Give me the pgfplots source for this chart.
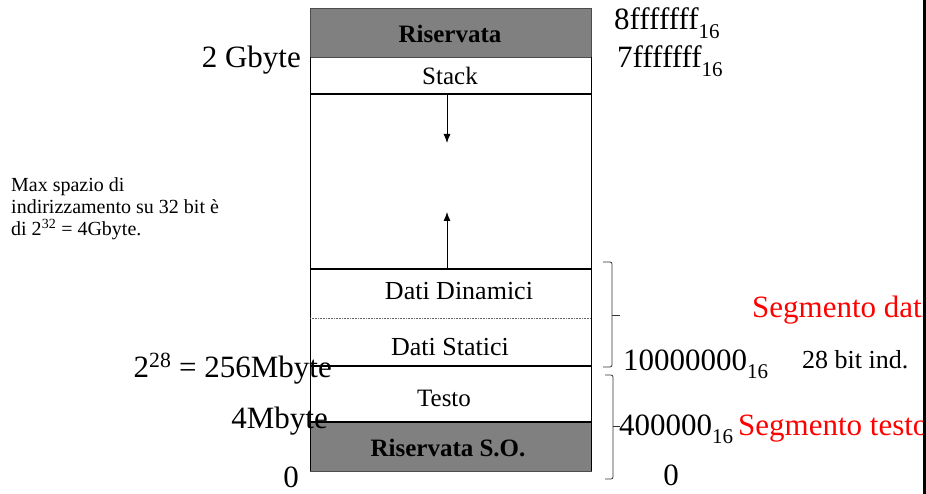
\documentclass[border=0pt]{standalone}
\usepackage{pgfplots}
\pgfplotsset{compat=1.18}
\usepackage{fontspec}
\setmainfont{Liberation Serif}
\usetikzlibrary{arrows.meta}

\newcommand{\fs}[1]{\fontsize{#1}{#1}\selectfont}
\newcommand{\hexsub}[1]{\raisebox{-0.28em}{\fs{21}#1}}

\begin{document}
\begin{tikzpicture}
\begin{axis}[
    name=ax,
    hide axis,
    scale only axis,
    width=926pt, height=494pt,
    xmin=0, xmax=926, ymin=0, ymax=494,
    y dir=reverse,
    clip=false,
]
% memory regions (pixel coordinates of the reference)
\addplot[fill=gray, draw=black!70, line width=0.8pt] coordinates {(310,8) (591,8) (591,57) (310,57)} --cycle;
\addplot[fill=gray, draw=black!70, line width=0.8pt] coordinates {(310,422) (591,422) (591,471) (310,471)} --cycle;
\addplot[black, line width=0.8pt] coordinates {(310,57) (310,471)};
\addplot[black, line width=0.8pt] coordinates {(591,57) (591,471)};
\addplot[black, line width=2.4pt] coordinates {(310,94) (591,94)};
\addplot[black, line width=2.4pt] coordinates {(310,269) (591,269)};
\addplot[black, line width=2.4pt] coordinates {(310,366) (591,366)};
\addplot[black, line width=2.4pt] coordinates {(310,422) (591,422)};
\addplot[black!60, line width=0.6pt, densely dotted] coordinates {(310,318) (591,318)};

% stack / heap growth
\addplot[black, line width=0.9pt, -{Latex[length=9pt,width=7pt]}] coordinates {(447,94) (447,143)};
\addplot[black, line width=0.9pt, -{Latex[length=9pt,width=7pt]}] coordinates {(447,269) (447,212)};

% braces (square-ish, as in the reference)
\addplot[black!80, line width=0.8pt, rounded corners=2pt] coordinates {(603,262) (612,262) (612,367) (603,367)};
\addplot[black!80, line width=0.8pt] coordinates {(612,315) (620,315)};
\addplot[black!80, line width=0.8pt, rounded corners=2pt] coordinates {(605,375) (613,375) (613,479) (605,479)};
\addplot[black!80, line width=0.8pt] coordinates {(613,426) (620,426)};

% labels inside the boxes
\node[anchor=base] at (axis cs:450,43) {\fs{25}\bfseries Riservata};
\node[anchor=base] at (axis cs:450,85) {\fs{25}Stack};
\node[anchor=base] at (axis cs:459,300) {\fs{26}Dati Dinamici};
\node[anchor=base] at (axis cs:450,355) {\fs{26}Dati Statici};
\node[anchor=base] at (axis cs:444,406) {\fs{25}Testo};
\node[anchor=base] at (axis cs:448,456) {\fs{25}\bfseries Riservata S.O.};

% left labels
\node[anchor=base east, inner sep=0pt] at (axis cs:301,68) {\fs{31}2 Gbyte};
\node[anchor=base east, inner sep=0pt] at (axis cs:332,377) {\fs{31}2\textsuperscript{28} = 256Mbyte};
\node[anchor=base east, inner sep=0pt] at (axis cs:328,428) {\fs{31}4Mbyte};
\node[anchor=base, inner sep=0pt] at (axis cs:291,487) {\fs{31}0};
\node[anchor=base west, inner sep=0pt] at (axis cs:11,192) {\fs{20}Max spazio di};
\node[anchor=base west, inner sep=0pt] at (axis cs:11,214) {\fs{20}indirizzamento su 32 bit è};
\node[anchor=base west, inner sep=0pt] at (axis cs:11,236) {\fs{20}di 2\textsuperscript{32} = 4Gbyte.};

% right labels
\node[anchor=base west, inner sep=0pt] at (axis cs:614,30) {\fs{31}8fffffff\hexsub{16}};
\node[anchor=base west, inner sep=0pt] at (axis cs:617,68) {\fs{31}7fffffff\hexsub{16}};
\node[anchor=base west, inner sep=0pt] at (axis cs:623,370) {\fs{31}10000000\hexsub{16}};
\node[anchor=base west, inner sep=0pt] at (axis cs:802,368) {\fs{26}28 bit ind.};
\node[anchor=base west, inner sep=0pt] at (axis cs:619,435) {\fs{31}400000\hexsub{16}};
\node[anchor=base, inner sep=0pt] at (axis cs:671,485) {\fs{31}0};
\node[anchor=base west, inner sep=0pt, text=red] at (axis cs:752,317) {\fs{31}Segmento dati};
\node[anchor=base west, inner sep=0pt, text=red] at (axis cs:738,435) {\fs{31}Segmento testo};

% black edge at the right border
\addplot[fill=black, draw=none] coordinates {(923,0) (927,0) (927,494) (923,494)} --cycle;
\end{axis}
\pgfresetboundingbox
\path[use as bounding box] (ax.south west) rectangle (ax.north east);
\end{tikzpicture}
\end{document}
